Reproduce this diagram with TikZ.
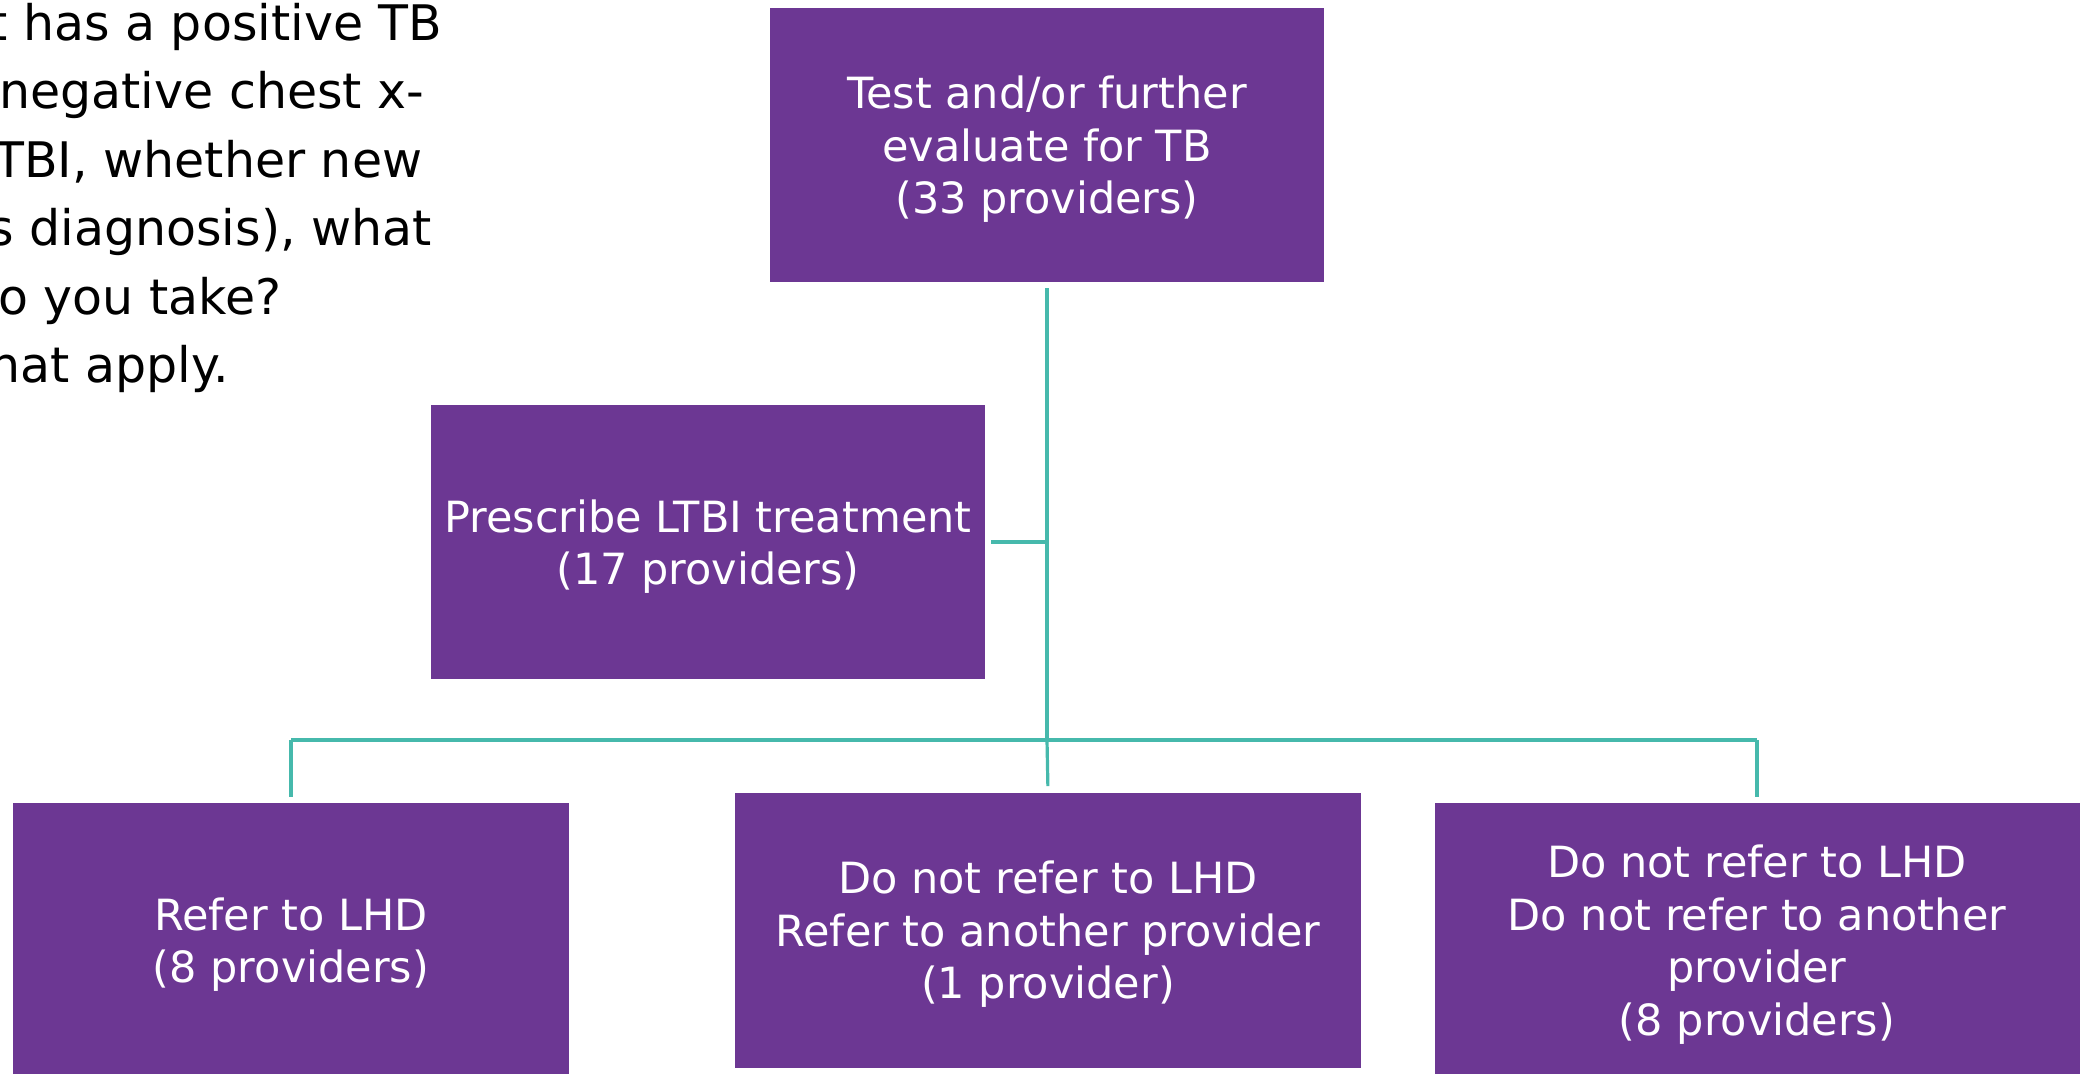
\documentclass[tikz,border=0pt]{standalone}
\usepackage{fontspec}
\setmainfont{DejaVu Sans}
\definecolor{boxpurple}{RGB}{108,55,147}
\definecolor{linkteal}{RGB}{70,185,172}
\begin{document}
\begin{tikzpicture}[x=0.5pt,y=-0.5pt,
  choice/.style={fill=boxpurple,text=white,align=center,inner sep=0pt,
    font=\fontsize{21.5}{26.3}\selectfont,text depth=-2.5pt},
  link/.style={draw=linkteal,line width=1.6pt},
  ask/.style={anchor=base west,inner sep=0pt,font=\fontsize{24.5}{34}\selectfont}]
\useasboundingbox (0,0) rectangle (2088,1074);

\node[ask] (q1) at (-12,41) {t has a positive TB};
\node[ask] (q2) at (-1,109) {negative chest x-};
\node[ask] (q3) at (-6,178) {TBI, whether new};
\node[ask] (q4) at (-12,246) {s diagnosis), what};
\node[ask] (q5) at (-2,315) {o you take?};
\node[ask] (q6) at (-11,383) {hat apply.};

\node[choice,minimum width=277pt,minimum height=137pt] (test) at (1047,145) {Test and/or further\\evaluate for TB\\(33 providers)};
\node[choice,minimum width=277pt,minimum height=137pt] (ltbi) at (708,542) {Prescribe LTBI treatment\\(17 providers)};
\node[choice,minimum width=278pt,minimum height=137pt] (lhd) at (291,940) {Refer to LHD\\(8 providers)};
\node[choice,minimum width=313pt,minimum height=137.5pt] (another) at (1048,930) {Do not refer to LHD\\Refer to another provider\\(1 provider)};
\node[choice,minimum width=322.5pt,minimum height=137pt] (none) at (1757,940) {Do not refer to LHD\\Do not refer to another\\provider\\(8 providers)};

\coordinate (bus) at (1047,740);
\draw[link,shorten <=3pt] (test.south) -- (test.south |- bus);
\draw[link,shorten <=3pt] (ltbi.east) -- (ltbi.east -| test.south);
\draw[link] (lhd.north |- bus) -- (none.north |- bus);
\draw[link,shorten >=3pt] (lhd.north |- bus) -- (lhd.north);
\draw[link,shorten >=3pt] (bus) -- (another.north);
\draw[link,shorten >=3pt] (none.north |- bus) -- (none.north);
\end{tikzpicture}
\end{document}
